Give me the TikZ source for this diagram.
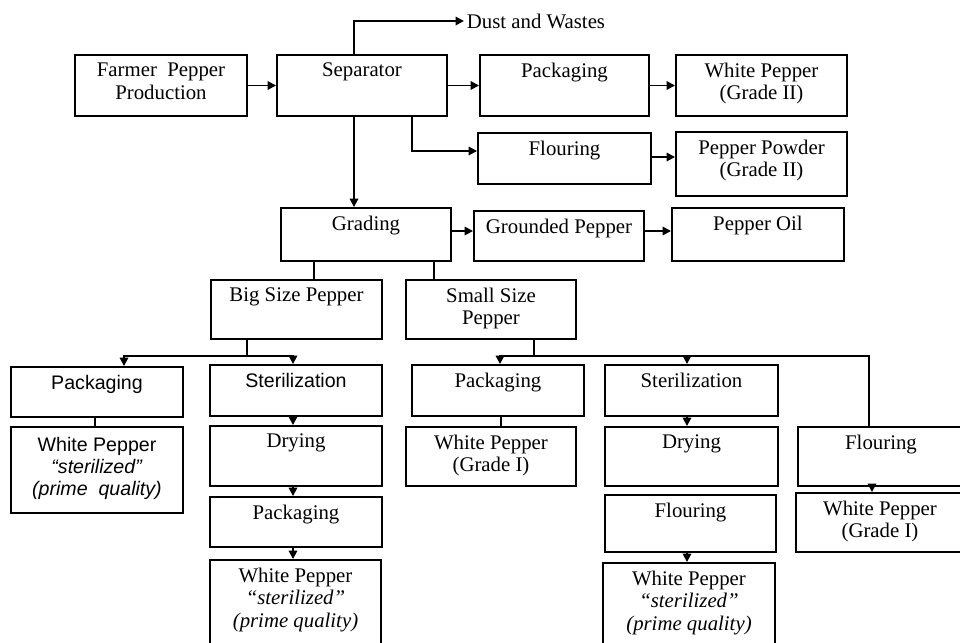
\documentclass[tikz,border=0pt]{standalone}
\usepackage{fontspec}
\setmainfont{Liberation Serif}
\setsansfont{Liberation Sans}
\usetikzlibrary{fit,arrows.meta,calc}
\begin{document}
\begin{tikzpicture}[x=0.5pt,y=-0.5pt,
  line width=0.95pt,
  box/.style={draw, inner sep=0pt, fit={#1}},
  lbl/.style={anchor=north, align=center, inner sep=3pt, yshift=-1pt,
    font=\fontsize{10.4}{11.2}\selectfont},
  slbl/.style={lbl, font=\sffamily\fontsize{9.8}{11}\selectfont},
  arr/.style={-{Triangle[length=4.2pt,width=4.2pt]}}]
\useasboundingbox (0,0) rectangle (960,643);

% top row
\node[box={(75,55) (247,116)}, label={[lbl]north:{Farmer\ \ Pepper\\Production}}] (farmer) {};
\node[box={(277,55) (447,116)}, label={[lbl]north:{Separator}}] (sep) {};
\node[anchor=west, inner sep=1pt, font=\fontsize{10.4}{11}\selectfont] (dust) at (464,21) {Dust and Wastes};
\node[box={(480,55) (649,116)}, label={[lbl]north:{Packaging}}] (packA) {};
\node[box={(676,55) (847,116)}, label={[lbl]north:{White Pepper\\(Grade II)}}] (wpA) {};
\node[box={(478,133) (651,184)}, label={[lbl]north:{Flouring}}] (flourA) {};
\node[box={(676,132) (847,196)}, label={[lbl]north:{Pepper Powder\\(Grade II)}}] (powder) {};

% grading row
\node[box={(281,208) (451,261)}, label={[lbl]north:{Grading}}] (grading) {};
\node[box={(474,211) (644,261)}, label={[lbl]north:{Grounded Pepper}}] (grounded) {};
\node[box={(672,208) (844,261)}, label={[lbl]north:{Pepper Oil}}] (oil) {};

% size row
\node[box={(211,280) (382,339)}, label={[lbl]north:{Big Size Pepper}}] (big) {};
\node[box={(406,280) (576,339)}, label={[lbl]north:{Small Size\\Pepper}}] (small) {};

% column 1
\node[box={(11,367) (183,417)}, label={[slbl]north:{Packaging}}] (packB) {};
\node[box={(11,427) (183,513)}, label={[slbl,yshift=-1pt]north:{White Pepper\\\textit{``sterilized''}\\\textit{(prime\ \ quality)}}}] (wpB) {};

% column 2
\node[box={(210,365) (382,416)}, label={[slbl]north:{Sterilization}}] (sterB) {};
\node[box={(210,426) (382,486)}, label={[lbl]north:{Drying}}] (dryB) {};
\node[box={(210,497) (382,547)}, label={[lbl]north:{Packaging}}] (packC) {};
\node[box={(210,560) (381,652)}, label={[lbl]north:{White Pepper\\\textit{``sterilized''}\\\textit{(prime quality)}}}] (wpC) {};

% column 3
\node[box={(412,365) (584,416)}, label={[lbl]north:{Packaging}}] (packD) {};
\node[box={(406,427) (576,486)}, label={[lbl]north:{White Pepper\\(Grade I)}}] (wpD) {};

% column 4
\node[box={(605,365) (778,416)}, label={[lbl]north:{Sterilization}}] (sterE) {};
\node[box={(605,427) (778,486)}, label={[lbl]north:{Drying}}] (dryE) {};
\node[box={(605,495) (776,552)}, label={[lbl]north:{Flouring}}] (flourE) {};
\node[box={(603,563) (775,652)}, label={[lbl]north:{White Pepper\\\textit{``sterilized''}\\\textit{(prime quality)}}}] (wpE) {};

% column 5
\node[box={(798,427) (964,486)}, label={[lbl]north:{Flouring}}] (flourF) {};
\node[box={(796,493) (964,552)}, label={[lbl]north:{White Pepper\\(Grade I)}}] (wpF) {};

% helper coordinates
\coordinate (xs) at (354,0);
\coordinate (xf) at (412,0);
\coordinate (yf) at (0,151);
\coordinate (yg) at (0,231);
\coordinate (xg1) at (314,0);
\coordinate (xg2) at (434,0);
\coordinate (jb) at (247,356);
\coordinate (xpb) at (124,0);
\coordinate (xpB) at (95,0);
\coordinate (js) at (534,356);
\coordinate (xpd) at (500,0);
\coordinate (xse) at (687,0);
\coordinate (xff) at (869,0);
\coordinate (xwf) at (872,0);
\coordinate (xdb) at (293,0);
\coordinate (xdd) at (501,0);

% connectors top
\draw[arr] (farmer.east) -- (sep.west);
\draw[arr] (sep.north -| xs) |- (dust.west);
\draw[arr] (sep.east) -- (packA.west);
\draw[arr] (sep.south -| xf) |- (flourA.west |- yf);
\draw[arr] (packA.east) -- (wpA.west);
\draw[arr] ($(flourA.east)+(0,-1.5)$) -- ($(flourA.east -| powder.west)+(0,-1.5)$);
\draw[arr] (sep.south -| xs) -- (grading.north -| xs);
\draw[arr] (grading.east |- yg) -- (grounded.west |- yg);
\draw[arr] (grounded.east |- yg) -- (oil.west |- yg);
\draw (grading.south -| xg1) -- (big.north -| xg1);
\draw (grading.south -| xg2) -- (small.north -| xg2);

% big size branch
\draw (big.south -| jb) -- (jb);
\draw[arr] (jb) -| (packB.north -| xpb);
\draw[arr] (jb) -| (sterB.north -| xdb);
\draw (packB.south -| xpB) -- (wpB.north -| xpB);
\draw[arr] (sterB.south -| xdb) -- (dryB.north -| xdb);
\draw[arr] (dryB.south -| xdb) -- (packC.north -| xdb);
\draw[arr] (packC.south -| xdb) -- (wpC.north -| xdb);

% small size branch
\draw (small.south -| js) -- (js);
\draw[arr] (js) -| (packD.north -| xpd);
\draw[arr] (js) -| (sterE.north -| xse);
\draw (js) -| (flourF.north -| xff);
\draw (packD.south -| xdd) -- (wpD.north -| xdd);
\draw[arr] (sterE.south -| xse) -- (dryE.north -| xse);
\draw[arr] (flourE.south -| xse) -- (wpE.north -| xse);
\draw[arr] (flourF.south -| xwf) -- (wpF.north -| xwf);
\end{tikzpicture}
\end{document}
